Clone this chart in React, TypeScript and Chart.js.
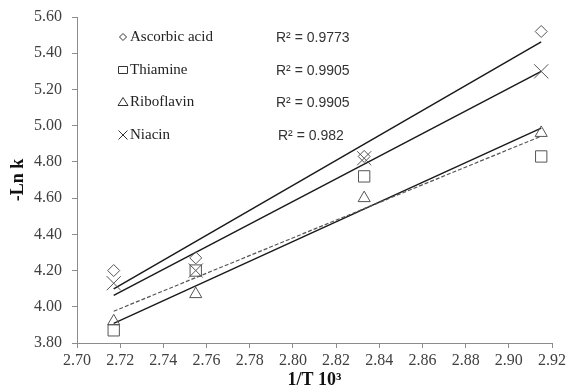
import React, { useEffect, useRef } from 'react';
import { Chart, registerables } from 'chart.js';

Chart.register(...registerables);

// ---- data ----
const seriesNames = ['Ascorbic acid', 'Thiamine', 'Riboflavin', 'Niacin'];
const invT = [2.717, 2.755, 2.833, 2.915];
const ascorbic = [4.20, 4.27, 4.83, 5.52];
const thiamine = [3.87, 4.20, 4.72, 4.83];
const riboflavin = [3.92, 4.07, 4.60, 4.96];
const niacin = [4.13, 4.20, 4.82, 5.30];
const r2Labels = ['R\u00B2 = 0.9773', 'R\u00B2 = 0.9905', 'R\u00B2 = 0.9905', 'R\u00B2 = 0.982'];
const xTicks = [2.70, 2.72, 2.74, 2.76, 2.78, 2.80, 2.82, 2.84, 2.86, 2.88, 2.90, 2.92];
const yTicks = [3.80, 4.00, 4.20, 4.40, 4.60, 4.80, 5.00, 5.20, 5.40, 5.60];

// ---- styles ----
const seriesValues = [ascorbic, thiamine, riboflavin, niacin];
const pointStyles = ['rectRot', 'rect', 'triangle', 'crossRot'];
const pointRadii = [6, 8, 7, 10];
const trendDash = [[], [4, 2], [], []];
const trendColor = ['#1a1a1a', '#555555', '#1a1a1a', '#1a1a1a'];
const markerColor = '#555555';
const axisColor = '#8c8c8c';
const serif = "'Liberation Serif', 'Times New Roman', serif";
const sans = "'Liberation Sans', Arial, sans-serif";

function regression(xs: number[], ys: number[]) {
  const n = xs.length;
  const mx = xs.reduce((a, b) => a + b, 0) / n;
  const my = ys.reduce((a, b) => a + b, 0) / n;
  let sxy = 0, sxx = 0;
  for (let i = 0; i < n; i++) {
    sxy += (xs[i] - mx) * (ys[i] - my);
    sxx += (xs[i] - mx) * (xs[i] - mx);
  }
  const slope = sxy / sxx;
  return { slope, intercept: my - slope * mx };
}

function drawLegendMarker(ctx: CanvasRenderingContext2D, style: string, x: number, y: number) {
  ctx.save();
  ctx.strokeStyle = '#333';
  ctx.lineWidth = 1;
  ctx.beginPath();
  if (style === 'rectRot') {
    const r = 3.5;
    ctx.moveTo(x - r, y); ctx.lineTo(x, y - r); ctx.lineTo(x + r, y); ctx.lineTo(x, y + r); ctx.closePath();
  } else if (style === 'rect') {
    ctx.rect(x - 4.5, y - 3.5, 9, 7);
  } else if (style === 'triangle') {
    ctx.moveTo(x, y - 4.5); ctx.lineTo(x + 5, y + 3.5); ctx.lineTo(x - 5, y + 3.5); ctx.closePath();
  } else {
    const r = 4.5;
    ctx.moveTo(x - r, y - r); ctx.lineTo(x + r, y + r);
    ctx.moveTo(x + r, y - r); ctx.lineTo(x - r, y + r);
  }
  ctx.stroke();
  ctx.restore();
}

const legendPlugin = {
  id: 'insideLegend',
  afterDraw(chart: any) {
    const ctx = chart.ctx as CanvasRenderingContext2D;
    const rows = [37, 70, 102, 135];
    ctx.save();
    ctx.textBaseline = 'middle';
    seriesNames.forEach((name, i) => {
      drawLegendMarker(ctx, pointStyles[i], 123, rows[i]);
      ctx.fillStyle = '#222';
      ctx.font = `15px ${serif}`;
      ctx.textAlign = 'left';
      ctx.fillText(name, 130, rows[i]);
      ctx.font = `14px ${sans}`;
      ctx.fillStyle = '#333';
      ctx.fillText(r2Labels[i], i === 3 ? 278 : 276, rows[i] + 1);
    });
    ctx.restore();
  },
};

export default function App() {
  const canvasRef = useRef<HTMLCanvasElement | null>(null);

  useEffect(() => {
    document.body.style.margin = '0';
    const canvas = canvasRef.current;
    if (!canvas) return;

    const datasets: any[] = [];
    seriesValues.forEach((vals, i) => {
      datasets.push({
        label: seriesNames[i],
        type: 'scatter',
        data: invT.map((x, k) => ({ x, y: vals[k] })),
        pointStyle: pointStyles[i],
        pointRadius: pointRadii[i],
        pointBorderColor: markerColor,
        pointBackgroundColor: 'rgba(0,0,0,0)',
        pointBorderWidth: 1,
        showLine: false,
        order: 0,
      });
    });
    seriesValues.forEach((vals, i) => {
      const { slope, intercept } = regression(invT, vals);
      const x0 = invT[0];
      const x1 = invT[invT.length - 1];
      datasets.push({
        label: seriesNames[i] + ' trend',
        type: 'line',
        data: [
          { x: x0, y: intercept + slope * x0 },
          { x: x1, y: intercept + slope * x1 },
        ],
        borderColor: trendColor[i],
        borderWidth: i === 1 ? 1.2 : 1.5,
        borderDash: trendDash[i],
        pointRadius: 0,
        fill: false,
        order: 1,
      });
    });

    const chart = new Chart(canvas, {
      type: 'scatter',
      data: { datasets },
      plugins: [legendPlugin],
      options: {
        animation: false,
        responsive: false,
        maintainAspectRatio: false,
        layout: { padding: { top: 17, right: 15, left: 0, bottom: 0 } },
        plugins: { legend: { display: false }, tooltip: { enabled: false } },
        scales: {
          x: {
            type: 'linear',
            min: 2.70,
            max: 2.92,
            afterBuildTicks: (scale: any) => {
              scale.ticks = xTicks.map((v) => ({ value: v }));
            },
            afterFit: (scale: any) => { scale.height = 47; },
            border: { color: axisColor, width: 1 },
            grid: { drawOnChartArea: false, drawTicks: true, tickLength: 5, color: axisColor },
            ticks: {
              color: '#404040',
              font: { family: serif, size: 16 },
              padding: 3,
              maxRotation: 0,
              autoSkip: false,
              callback: (v: any) => Number(v).toFixed(2),
            },
            title: {
              display: true,
              text: '1/T 10\u00B3',
              color: '#111',
              font: { family: serif, size: 18, weight: 'bold' },
              padding: { top: 0, bottom: -1 },
            },
          },
          y: {
            type: 'linear',
            min: 3.80,
            max: 5.60,
            afterBuildTicks: (scale: any) => {
              scale.ticks = yTicks.map((v) => ({ value: v }));
            },
            afterFit: (scale: any) => {
              scale.width = 77;
              scale.paddingTop = 0;
              scale.paddingBottom = 0;
            },
            border: { color: axisColor, width: 1 },
            grid: { drawOnChartArea: false, drawTicks: true, tickLength: 5, color: axisColor },
            ticks: {
              color: '#404040',
              font: { family: serif, size: 16 },
              padding: 10,
              autoSkip: false,
              callback: (v: any) => Number(v).toFixed(2),
            },
            title: {
              display: true,
              text: '-Ln k',
              color: '#111',
              font: { family: serif, size: 18, weight: 'bold' },
              padding: { top: 8, bottom: 0 },
            },
          },
        },
      } as any,
    });

    return () => chart.destroy();
  }, []);

  return (
    <div style={{ width: 569, height: 390, background: '#fff' }}>
      <canvas ref={canvasRef} width={569} height={390} style={{ display: 'block' }} />
    </div>
  );
}
